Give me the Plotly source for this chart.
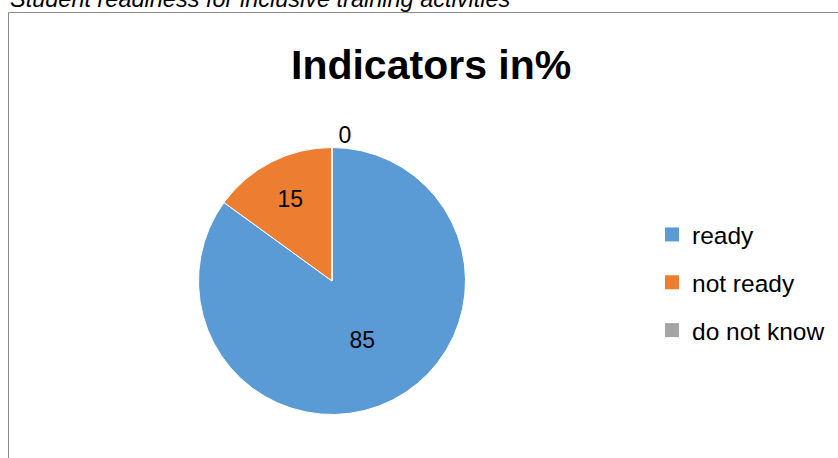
import plotly.graph_objects as go

categories = ["ready", "not ready", "do not know"]
values = [85, 15, 0]
colors = ["#5B9BD5", "#ED7D31", "#A5A5A5"]
title_text = "Indicators in%"
caption_text = "Student readiness for inclusive training activities"

W, H = 838, 458
FONT = "Liberation Sans, Arial, sans-serif"

fig = go.Figure()

fig.add_trace(go.Pie(
    labels=categories,
    values=values,
    sort=False,
    direction="clockwise",
    rotation=0,
    marker=dict(colors=colors, line=dict(color="white", width=1)),
    texttemplate="%{value}",
    textposition=["inside", "inside", "outside"],
    insidetextorientation="horizontal",
    textfont=dict(family=FONT, size=23, color="black"),
    showlegend=False,
    hoverinfo="label+value",
    domain=dict(x=[198.5 / W, 465.5 / W], y=[1 - 414.5 / H, 1 - 147.5 / H]),
))

# legend entries
for name, col in zip(categories, colors):
    fig.add_trace(go.Scatter(
        x=[None], y=[None], mode="markers", name=name, legendgroup=name,
        marker=dict(symbol="square", size=14, color=col),
    ))

fig.update_layout(
    width=W, height=H,
    margin=dict(l=0, r=0, t=0, b=0),
    paper_bgcolor="white", plot_bgcolor="white",
    font=dict(family=FONT, color="black"),
    xaxis=dict(visible=False), yaxis=dict(visible=False),
    legend=dict(
        x=652 / W, y=1 - 212 / H, xanchor="left", yanchor="top",
        font=dict(family=FONT, size=24.5, color="black"),
        tracegroupgap=13, bgcolor="rgba(0,0,0,0)",
    ),
    annotations=[
        dict(text="<b>" + title_text + "</b>", x=431 / W, y=1 - 65 / H,
             xref="paper", yref="paper", xanchor="center", yanchor="middle",
             showarrow=False, font=dict(family=FONT, size=41, color="black")),
        dict(text="<i>" + caption_text + "</i>", x=8 / W, y=1 - 14 / H,
             xref="paper", yref="paper", xanchor="left", yanchor="bottom",
             showarrow=False, font=dict(family=FONT, size=23.5, color="black")),
    ],
    shapes=[
        dict(type="rect", xref="paper", yref="paper",
             x0=8.5 / W, x1=1.05, y0=-0.05, y1=1 - 12.5 / H,
             line=dict(color="#8C8C8C", width=1), fillcolor="rgba(0,0,0,0)"),
    ],
)

fig.write_html("out.html", config={"displayModeBar": False},
               post_script="document.body.style.margin='0px';")
